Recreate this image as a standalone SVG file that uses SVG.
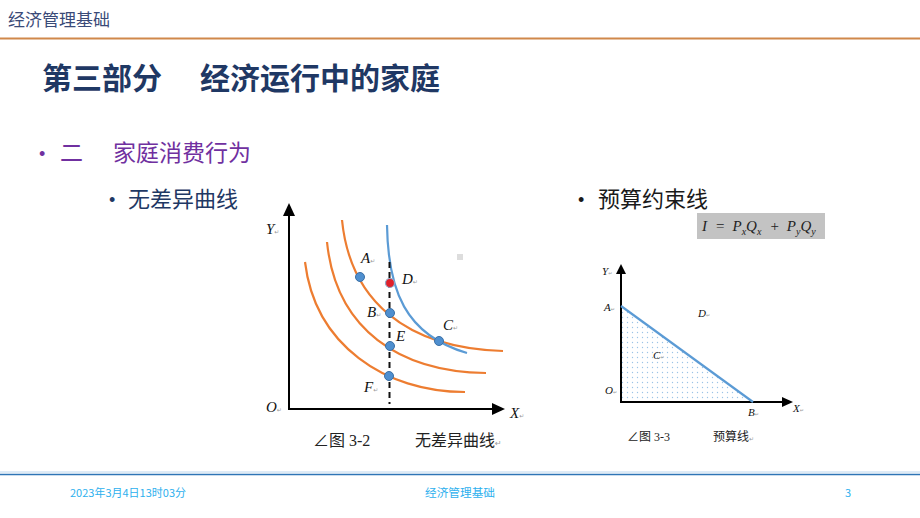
<svg xmlns="http://www.w3.org/2000/svg" width="920" height="518" viewBox="0 0 920 518">
<defs>
<style>
.cjk{font-family:"Noto Sans CJK SC","Noto Sans",sans-serif}
.bul{font-family:"Liberation Sans",sans-serif;font-size:18px}
.lbl{font-family:"Liberation Serif",serif;font-style:italic;fill:#111}
.lbl2{font-family:"Liberation Serif",serif;font-style:italic;fill:#111;font-size:11px}
.mk{font-family:"DejaVu Sans",sans-serif;fill:#999;font-style:normal}
.ax{stroke:#000;stroke-width:2;fill:none}
.ic{fill:none;stroke:#ED7D31;stroke-width:2.2}
.bc{fill:none;stroke:#5B9BD5;stroke-width:2.2}
.pt{fill:#4F8FCF;stroke:#3A6FA5;stroke-width:1}
.cap{font-family:"Liberation Serif","Noto Sans CJK SC",serif;fill:#222}
.ft{font-family:"Noto Sans CJK SC","Liberation Sans",sans-serif;fill:#2DB0EE;font-size:11px}
</style>
<pattern id="dots" width="5" height="5" patternUnits="userSpaceOnUse">
<circle cx="2.5" cy="2.5" r="0.7" fill="#9CC3E6"/>
</pattern>
</defs>
<rect width="920" height="518" fill="#fff"/>

<g id="header">
<text x="8" y="26" class="cjk" font-size="17" fill="#3A4A78">经济管理基础</text>
<line x1="0" y1="38.5" x2="920" y2="38.5" stroke="#D0884B" stroke-width="2"/>
</g>

<g id="title" class="cjk" font-size="30" font-weight="bold" fill="#1F3864">
<text x="42" y="89">第三部分</text>
<text x="200" y="89">经济运行中的家庭</text>
</g>

<g id="bullets" class="cjk">
<text x="39" y="160" class="bul" fill="#7030A0">•</text>
<text x="60" y="161" font-size="23" fill="#7030A0">二</text>
<text x="113" y="161" font-size="23" fill="#7030A0">家庭消费行为</text>
<text x="109" y="206" class="bul" fill="#1F3864">•</text>
<text x="128" y="207" font-size="22" fill="#1F3864">无差异曲线</text>
<text x="578" y="206" class="bul" fill="#1a1a1a">•</text>
<text x="598" y="207" font-size="22" fill="#1a1a1a">预算约束线</text>
</g>

<g id="formula">
<rect x="697" y="213" width="128" height="26" fill="#C3C3C3"/>
<text x="702" y="231" font-family="Liberation Serif,serif" font-style="italic" font-size="15" fill="#222">I<tspan font-style="normal" dx="9">=</tspan><tspan dx="8">P</tspan><tspan font-size="10" dy="4">x</tspan><tspan dy="-4">Q</tspan><tspan font-size="10" dy="4">x</tspan><tspan font-style="normal" dy="-4" dx="9">+</tspan><tspan dx="8">P</tspan><tspan font-size="10" dy="4">y</tspan><tspan dy="-4">Q</tspan><tspan font-size="10" dy="4">y</tspan></text>
</g>

<g id="graph1">
<line class="ax" x1="289" y1="409" x2="289" y2="214"/>
<polygon points="289,203 283,216 295,216" fill="#000"/>
<line class="ax" x1="288" y1="409" x2="494" y2="409"/>
<polygon points="505,409 492,403 492,415" fill="#000"/>
<path class="ic" d="M342,220 C350,300 405,348 503,351"/>
<path class="ic" d="M327,242 C336,330 400,372 486,373"/>
<path class="ic" d="M305,262 C315,345 385,392 465,392"/>
<path class="bc" d="M387,225 C388,290 405,335 467,353"/>
<line x1="389.5" y1="262" x2="389.5" y2="404" stroke="#111" stroke-width="2" stroke-dasharray="6,4"/>
<circle class="pt" cx="360" cy="277" r="4.5"/>
<circle cx="390" cy="283" r="4.5" fill="#E0202A" stroke="#8FA9C9" stroke-width="1.2"/>
<circle class="pt" cx="390" cy="313" r="4.5"/>
<circle class="pt" cx="390" cy="346" r="4.5"/>
<circle class="pt" cx="439" cy="341" r="4.5"/>
<circle class="pt" cx="389" cy="376" r="4.5"/>
<rect x="457" y="254" width="6" height="6" fill="#DDD"/>
<g class="lbl" font-size="15">
<text x="266" y="234">Y<tspan class="mk" font-size="6">↵</tspan></text>
<text x="361" y="263">A<tspan class="mk" font-size="6">↵</tspan></text>
<text x="402" y="284">D<tspan class="mk" font-size="6">↵</tspan></text>
<text x="367" y="317">B<tspan class="mk" font-size="6">↵</tspan></text>
<text x="396" y="341">E</text>
<text x="443" y="330">C<tspan class="mk" font-size="6">↵</tspan></text>
<text x="364" y="392">F<tspan class="mk" font-size="6">↵</tspan></text>
<text x="266" y="412">O<tspan class="mk" font-size="6">↵</tspan></text>
<text x="510" y="418">X<tspan class="mk" font-size="6">↵</tspan></text>
</g>
<text x="313" y="446" class="cap" font-size="16">∠图 3-2</text>
<text x="415" y="446" class="cap" font-size="16">无差异曲线<tspan class="mk" font-size="8">↵</tspan></text>
</g>

<g id="graph2">
<polygon points="621,306 753,402 621,402" fill="url(#dots)"/>
<line class="ax" x1="621" y1="402" x2="621" y2="271" stroke-width="1.8"/>
<polygon points="621,264 616,274 626,274" fill="#000"/>
<line class="ax" x1="620" y1="402" x2="783" y2="402" stroke-width="1.8"/>
<polygon points="793,402 782,397 782,407" fill="#000"/>
<line x1="621" y1="306" x2="753" y2="402" stroke="#5B9BD5" stroke-width="2.2"/>
<g class="lbl2">
<text x="602" y="275">Y<tspan class="mk" font-size="5">↵</tspan></text>
<text x="604" y="311">A<tspan class="mk" font-size="5">↵</tspan></text>
<text x="698" y="317">D<tspan class="mk" font-size="5">↵</tspan></text>
<text x="653" y="359">C<tspan class="mk" font-size="5">↵</tspan></text>
<text x="605" y="394">O<tspan class="mk" font-size="5">↵</tspan></text>
<text x="748" y="416">B<tspan class="mk" font-size="5">↵</tspan></text>
<text x="793" y="412">X<tspan class="mk" font-size="5">↵</tspan></text>
</g>
<text x="627" y="441" class="cap" font-size="12">∠图 3-3</text>
<text x="713" y="441" class="cap" font-size="12">预算线<tspan class="mk" font-size="6">↵</tspan></text>
</g>

<g id="footer">
<line x1="0" y1="472" x2="920" y2="472" stroke="#BDD7EE" stroke-width="1"/>
<line x1="0" y1="474.5" x2="920" y2="474.5" stroke="#2E75B6" stroke-width="1.5"/>
<text x="70" y="497" class="ft" textLength="116" lengthAdjust="spacingAndGlyphs">2023年3月4日13时03分</text>
<text x="425" y="497" class="ft" textLength="70" lengthAdjust="spacingAndGlyphs">经济管理基础</text>
<text x="845" y="497" class="ft">3</text>
</g>
</svg>
